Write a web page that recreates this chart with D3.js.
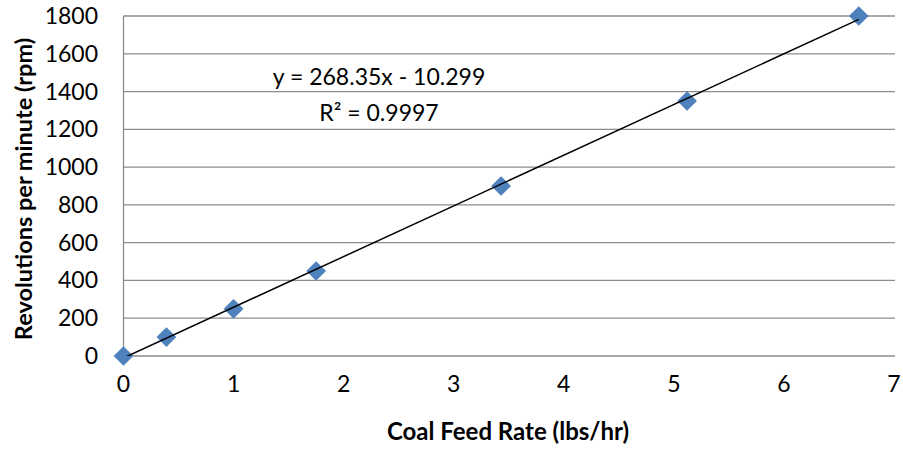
<!DOCTYPE html>
<html>
<head>
<meta charset="utf-8">
<script src="https://cdn.jsdelivr.net/npm/d3@7"></script>
<style>
  html, body { margin: 0; padding: 0; background: #fff; }
  svg { display: block; font-family: Lato, "Open Sans", sans-serif; }
</style>
</head>
<body>
<svg id="chart" width="903" height="450"></svg>
<script>
// Coal feed rate vs. rotational speed
const feedRate = [0, 0.39, 1.0, 1.75, 3.43, 5.12, 6.68];
const rpm = [0, 100, 250, 450, 900, 1350, 1800];
const xTicks = [0, 1, 2, 3, 4, 5, 6, 7];
const yTicks = [0, 200, 400, 600, 800, 1000, 1200, 1400, 1600, 1800];
const slope = 268.35;
const intercept = -10.299;
const equationLines = ["y = 268.35x - 10.299", "R\u00b2 = 0.9997"];

(function () {
  const svg = d3.select("#chart");
  const plotLeft = 123.5, plotRight = 895, plotTop = 16, plotBottom = 356;

  const x = d3.scaleLinear().domain([0, 7]).range([plotLeft, 894]);
  const y = d3.scaleLinear().domain([0, 1800]).range([plotBottom, plotTop]);

  // horizontal gridlines
  svg.append("g")
    .selectAll("line")
    .data(yTicks.filter(d => d > 0))
    .join("line")
    .attr("x1", plotLeft).attr("x2", plotRight)
    .attr("y1", d => y(d)).attr("y2", d => y(d))
    .attr("stroke", "#8c8c8c").attr("stroke-width", 1.3);

  // axis lines
  svg.append("line").attr("x1", plotLeft).attr("x2", plotRight)
    .attr("y1", y(0)).attr("y2", y(0))
    .attr("stroke", "#8c8c8c").attr("stroke-width", 1.3);
  svg.append("line").attr("x1", plotLeft).attr("x2", plotLeft)
    .attr("y1", y(0)).attr("y2", y(1800))
    .attr("stroke", "#8c8c8c").attr("stroke-width", 1.3);

  // y tick labels
  svg.append("g")
    .selectAll("text")
    .data(yTicks)
    .join("text")
    .attr("x", 98).attr("y", d => y(d))
    .attr("dy", "0.35em")
    .attr("text-anchor", "end")
    .attr("font-size", 23)
    .attr("fill", "#000")
    .text(d => d);

  // x tick labels
  svg.append("g")
    .selectAll("text")
    .data(xTicks)
    .join("text")
    .attr("x", d => x(d)).attr("y", 384)
    .attr("dy", "0.35em")
    .attr("text-anchor", "middle")
    .attr("font-size", 23)
    .attr("fill", "#000")
    .text(d => d);

  // axis titles
  svg.append("text")
    .attr("x", 508).attr("y", 432)
    .attr("dy", "0.35em")
    .attr("text-anchor", "middle")
    .attr("font-size", 24).attr("font-weight", "bold")
    .text("Coal Feed Rate (lbs/hr)");
  svg.append("text")
    .attr("transform", "translate(24,189) rotate(-90)")
    .attr("dy", "0.35em")
    .attr("text-anchor", "middle")
    .attr("font-size", 23.5).attr("font-weight", "bold")
    .text("Revolutions per minute (rpm)");

  // diamond markers
  const diamond = d3.symbol().type(d3.symbolSquare).size(195);
  svg.append("g")
    .selectAll("path")
    .data(feedRate.map((d, i) => [d, rpm[i]]))
    .join("path")
    .attr("d", diamond)
    .attr("transform", d => `translate(${x(d[0])},${y(d[1])}) rotate(45)`)
    .attr("fill", "#4f81bd");

  // linear trendline over the data range, clipped to the plot area
  const [xMin, xMax] = d3.extent(feedRate);
  svg.append("defs").append("clipPath").attr("id", "plotClip")
    .append("rect").attr("x", plotLeft).attr("y", 0)
    .attr("width", plotRight - plotLeft).attr("height", plotBottom);
  svg.append("line")
    .attr("clip-path", "url(#plotClip)")
    .attr("x1", x(xMin)).attr("y1", y(slope * xMin + intercept))
    .attr("x2", x(xMax)).attr("y2", y(slope * xMax + intercept))
    .attr("stroke", "#000").attr("stroke-width", 1.5);

  // equation label
  svg.append("g")
    .selectAll("text")
    .data(equationLines)
    .join("text")
    .attr("x", 379).attr("y", (d, i) => 77 + i * 36)
    .attr("dy", "0.35em")
    .attr("text-anchor", "middle")
    .attr("font-size", 23)
    .text(d => d);
})();
</script>
</body>
</html>
